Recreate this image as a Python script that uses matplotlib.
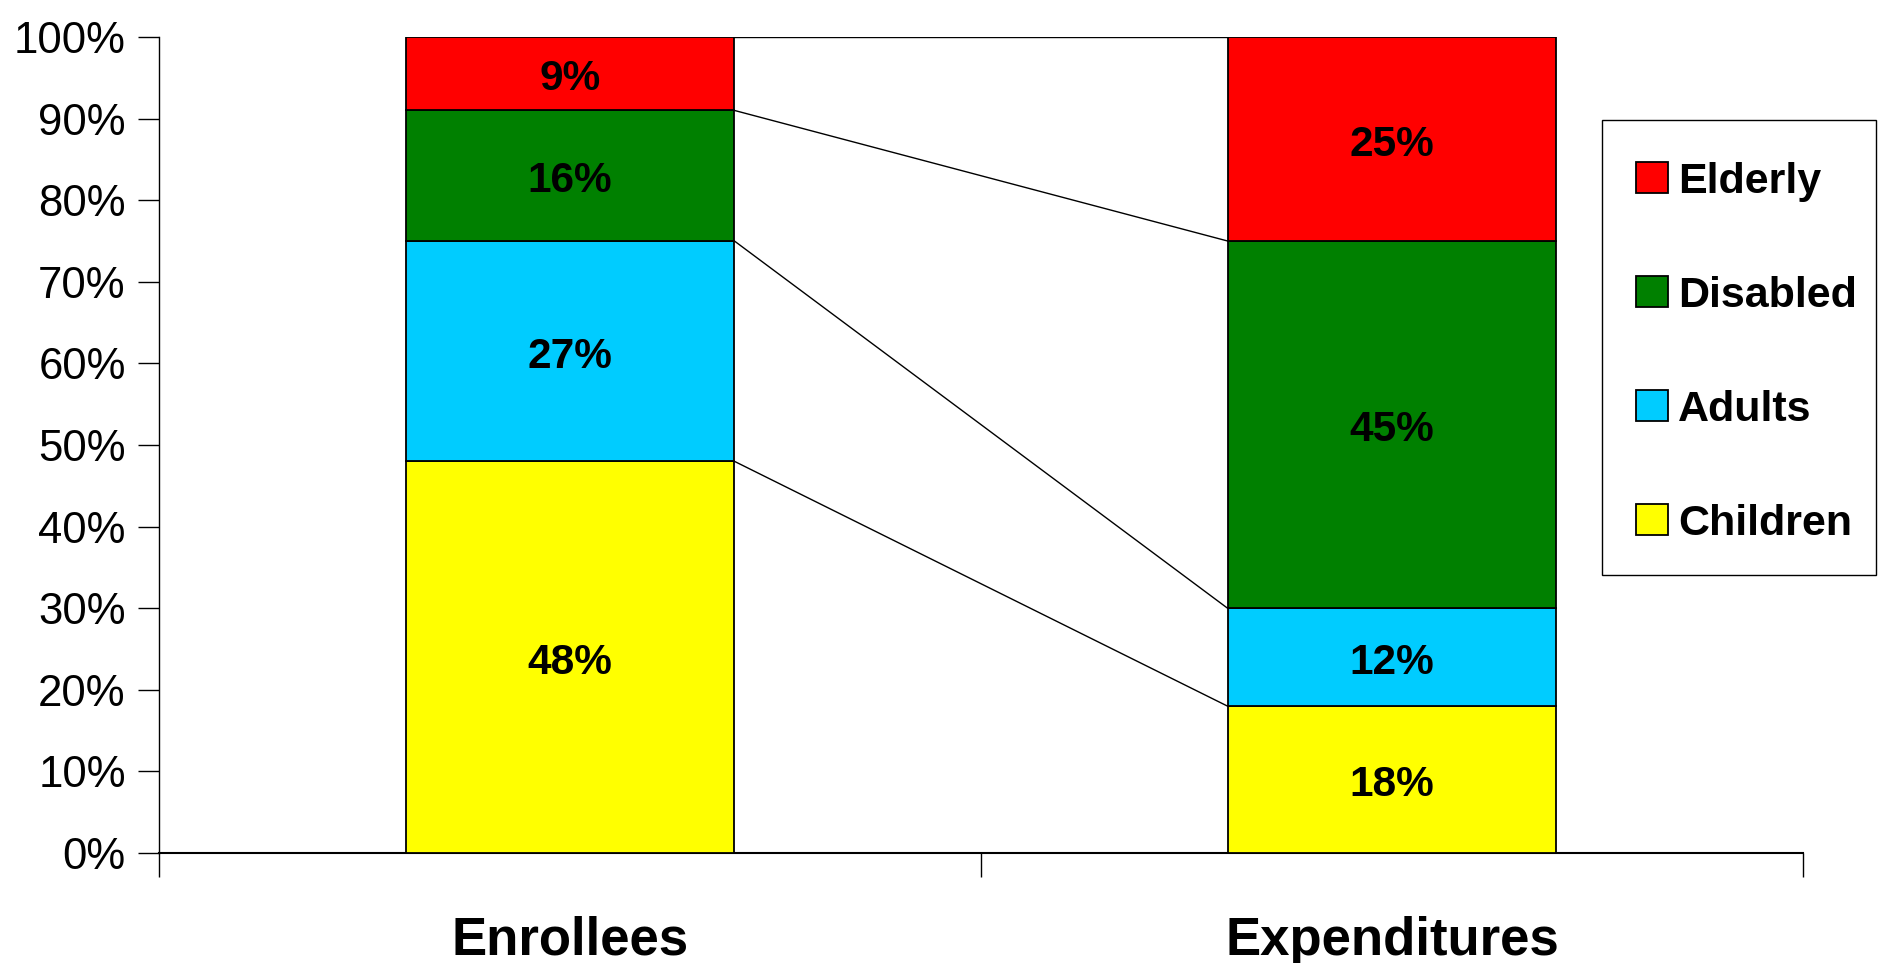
import numpy as np
import matplotlib
matplotlib.use("Agg")
import matplotlib.pyplot as plt
from matplotlib.patches import Rectangle

# ── data ─────────────────────────────────────────────────────────────────────

categories = ["Enrollees", "Expenditures"]
groups = ["Children", "Adults", "Disabled", "Elderly"]
enrollees = [48, 27, 16, 9]
expenditures = [18, 12, 45, 25]
colors = ["#FFFF00", "#00CCFF", "#008000", "#FF0000"]

plt.rcParams["font.family"] = ["Liberation Sans", "DejaVu Sans"]

fig = plt.figure(figsize=(18.78, 9.63), dpi=100)
ax = fig.add_axes([0.0847, 0.1142, 0.8753, 0.8474])

x = np.arange(len(categories))
width = 0.40
values = np.array([enrollees, expenditures], dtype=float).T   # rows = groups
bottoms = np.zeros(len(categories))

for i, grp in enumerate(groups):
    ax.bar(x, values[i], width, bottom=bottoms, color=colors[i],
           edgecolor="black", linewidth=1.3, label=grp, zorder=3)
    for xi, v, b in zip(x, values[i], bottoms):
        ax.annotate(f"{v:.0f}%", (xi, b + v / 2), xytext=(0, -4),
                    textcoords="offset points", ha="center", va="center",
                    fontsize=30.5, fontweight="bold", zorder=4)
    bottoms = bottoms + values[i]

# series lines joining the segment boundaries of the two bars
cum = np.cumsum(values, axis=0)
for row in cum:
    ax.plot([x[0] + width / 2, x[1] - width / 2], [row[0], row[1]],
            color="black", linewidth=1.0, zorder=2)

ax.set_xlim(-0.5, 1.5)
ax.set_ylim(0, 100)
ax.set_yticks(np.arange(0, 101, 10))
ax.set_yticklabels([f"{v}%" for v in range(0, 101, 10)], fontsize=31.5)
ax.tick_params(axis="y", direction="out", length=15, width=1.0, pad=9)

ax.set_xticks([-0.5, 0.5, 1.5])
ax.set_xticklabels([])
ax.tick_params(axis="x", direction="out", length=17, width=1.0)
ax.set_xticks(x, minor=True)
ax.set_xticklabels(categories, minor=True, fontsize=38, fontweight="bold")
ax.tick_params(axis="x", which="minor", length=0, pad=45)

for side in ("top", "right"):
    ax.spines[side].set_visible(False)
ax.spines["left"].set_linewidth(1.0)
ax.spines["bottom"].set_linewidth(1.5)

# legend: frameless entries inside a hand-placed box
fig.add_artist(Rectangle((0.8533, 0.4029), 0.1454, 0.4727,
                         transform=fig.transFigure, facecolor="white",
                         edgecolor="black", linewidth=1.0, zorder=5))
handles, labels = ax.get_legend_handles_labels()
leg = fig.legend(handles[::-1], labels[::-1], loc="upper left",
                 bbox_to_anchor=(0.8712, 0.832), frameon=False,
                 prop={"weight": "bold", "size": 31},
                 handlelength=0.73, handleheight=0.73, handletextpad=0.24,
                 labelspacing=1.72, borderpad=0, borderaxespad=0)
leg.set_zorder(6)

fig.savefig("out.png", dpi=100)
